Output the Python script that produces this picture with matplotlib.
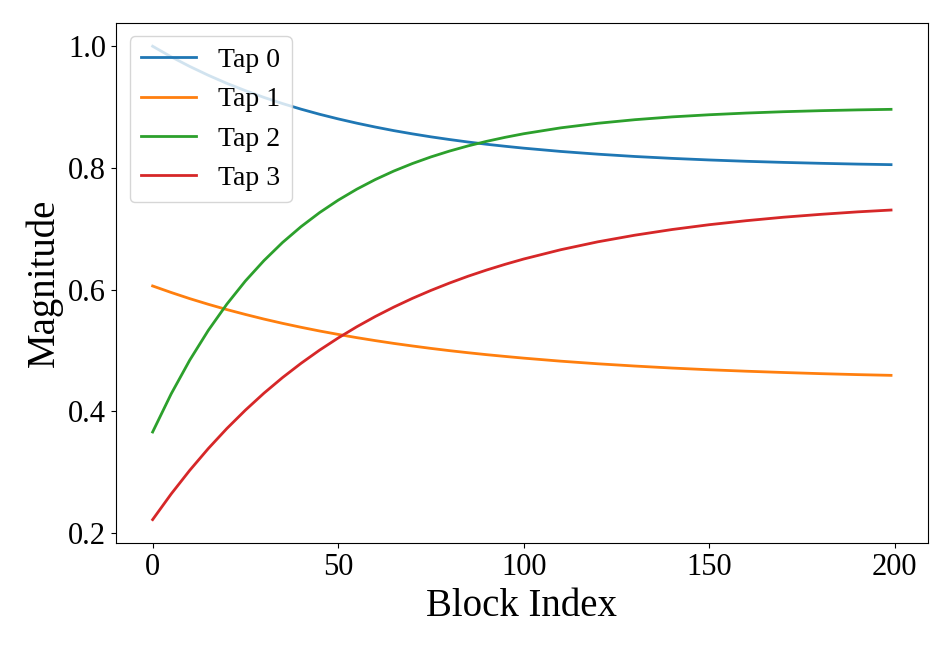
import matplotlib
matplotlib.use("Agg")
import matplotlib.pyplot as plt

# block index where the curves were read
blocks = [0, 5, 10, 15, 20, 25, 30, 35, 40, 45, 50, 55, 60, 65, 70, 75, 80, 85,
          90, 95, 100, 110, 120, 130, 140, 150, 160, 170, 180, 190, 199]

tap0 = [1.000, 0.9826, 0.9668, 0.9523, 0.9390, 0.9270, 0.9159, 0.9058, 0.8966,
        0.8882, 0.8806, 0.8736, 0.8672, 0.8613, 0.8560, 0.8511, 0.8467, 0.8426,
        0.8389, 0.8356, 0.8325, 0.8271, 0.8226, 0.8188, 0.8157, 0.8131, 0.8109,
        0.8091, 0.8076, 0.8063, 0.8054]
tap1 = [0.606, 0.5953, 0.5852, 0.5759, 0.5672, 0.5592, 0.5516, 0.5446, 0.5381,
        0.5320, 0.5264, 0.5211, 0.5162, 0.5116, 0.5074, 0.5034, 0.4997, 0.4963,
        0.4931, 0.4902, 0.4874, 0.4824, 0.4781, 0.4744, 0.4711, 0.4683, 0.4659,
        0.4638, 0.4619, 0.4603, 0.4591]
tap2 = [0.366, 0.4287, 0.4841, 0.5330, 0.5761, 0.6142, 0.6477, 0.6774, 0.7035,
        0.7266, 0.7470, 0.7650, 0.7809, 0.7949, 0.8072, 0.8181, 0.8277, 0.8362,
        0.8437, 0.8503, 0.8562, 0.8659, 0.8734, 0.8793, 0.8839, 0.8874, 0.8902,
        0.8924, 0.8941, 0.8954, 0.8963]
tap3 = [0.222, 0.2642, 0.3030, 0.3388, 0.3717, 0.4019, 0.4298, 0.4554, 0.4789,
        0.5006, 0.5205, 0.5389, 0.5558, 0.5713, 0.5856, 0.5987, 0.6108, 0.6220,
        0.6322, 0.6416, 0.6503, 0.6656, 0.6786, 0.6895, 0.6988, 0.7067, 0.7133,
        0.7190, 0.7237, 0.7278, 0.7308]

series = [("Tap 0", tap0), ("Tap 1", tap1), ("Tap 2", tap2), ("Tap 3", tap3)]

plt.rcParams['font.family'] = ['Liberation Serif', 'DejaVu Serif']

fig = plt.figure(figsize=(9.5, 6.45), dpi=100)
ax = fig.add_axes([0.1218, 0.1577, 0.855, 0.8073])

for nome, valores in series:
    ax.plot(blocks, valores, linewidth=2, label=nome)

ax.set_xticks([0, 50, 100, 150, 200])
ax.set_yticks([0.2, 0.4, 0.6, 0.8, 1.0])
ax.tick_params(labelsize=22)
ax.set_xlabel("Block Index", fontsize=28)
ax.set_ylabel("Magnitude", fontsize=28)
ax.legend(loc="upper left", fontsize=20)

fig.savefig("out.png", dpi=100)
